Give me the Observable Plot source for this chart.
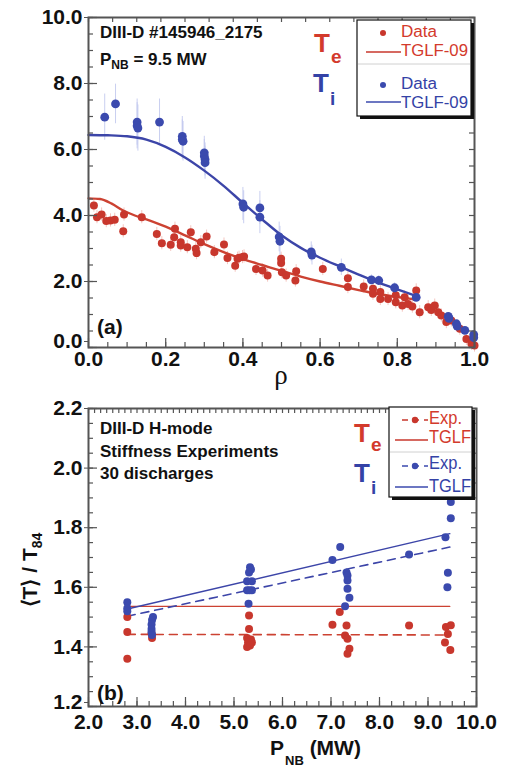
<!DOCTYPE html>
<html><head><meta charset="utf-8">
<script src="https://cdn.jsdelivr.net/npm/d3@7"></script>
<script src="https://cdn.jsdelivr.net/npm/@observablehq/plot@0.6"></script>
<style>
body{margin:0;background:#fff;}
#fig{width:508px;}
#fig svg{display:block;}
</style></head><body><div id="fig"></div>
<script>
// ---------------- Panel (a): profiles vs rho ----------------
const tiRho = [0.042,0.070,0.126,0.126,0.128,0.184,0.243,0.243,0.245,0.300,0.300,0.302,0.302,0.400,0.402,0.444,0.444,0.494,0.496,0.577,0.579,0.655,0.733,0.752,0.793,0.849,0.932,0.934,0.953,0.955,0.975,0.998,0.998];
const tiVal = [6.98,7.38,6.83,6.72,6.65,6.83,6.40,6.30,6.25,5.90,5.80,5.70,5.60,4.35,4.25,4.23,3.95,3.35,3.22,2.90,2.80,2.43,2.05,2.03,1.81,1.52,0.94,0.88,0.72,0.65,0.52,0.39,0.30];
const tiErr = [0.70,0.60,0.70,0.70,0.70,0.70,0.60,0.60,0.60,0.50,0.50,0.50,0.50,0.50,0.50,0.50,0.50,0.45,0.45,0.30,0.30,0.25,0.15,0.15,0.15,0.12,0.10,0.10,0.10,0.10,0.10,0.10,0.10];
const teRho = [0.014,0.022,0.034,0.046,0.057,0.068,0.092,0.090,0.138,0.177,0.190,0.213,0.222,0.224,0.239,0.239,0.256,0.265,0.278,0.280,0.291,0.306,0.326,0.351,0.360,0.380,0.386,0.390,0.399,0.403,0.434,0.451,0.464,0.499,0.499,0.501,0.512,0.538,0.536,0.607,0.672,0.672,0.713,0.737,0.737,0.756,0.756,0.776,0.796,0.796,0.813,0.819,0.828,0.839,0.849,0.858,0.880,0.888,0.897,0.906,0.914,0.927,0.940,0.962,0.979,0.992,1.000];
const teVal = [4.30,3.95,4.03,3.83,3.85,3.87,4.03,3.52,3.95,3.44,3.16,3.11,3.34,3.60,3.19,3.09,3.04,3.49,2.99,2.86,3.19,3.36,2.89,3.12,2.71,2.48,2.69,2.72,2.74,2.76,2.38,2.33,2.18,2.69,2.56,2.28,2.18,2.31,2.03,2.38,2.10,1.83,1.85,1.78,1.63,1.68,1.47,1.47,1.58,1.37,1.27,1.52,1.32,1.24,1.73,1.07,1.22,1.14,1.27,1.07,0.97,0.77,0.82,0.57,0.26,0.11,0.06];
const teErr = 0.2;
const tiFitRho = [0,0.05,0.10,0.15,0.20,0.25,0.30,0.35,0.40,0.45,0.50,0.55,0.60,0.65,0.70,0.75,0.80,0.85];
const tiTglf   = [6.44,6.43,6.40,6.30,6.08,5.76,5.36,4.90,4.38,3.88,3.40,3.02,2.72,2.46,2.21,1.97,1.76,1.56];
const teFitRho = [0,0.03,0.06,0.09,0.12,0.15,0.20,0.25,0.30,0.35,0.40,0.45,0.50,0.55,0.60,0.65,0.70,0.75,0.80,0.85];
const teTglf   = [4.52,4.50,4.36,4.15,4.00,3.88,3.66,3.40,3.13,2.89,2.68,2.50,2.32,2.15,2.00,1.87,1.74,1.62,1.53,1.45];
const xMajorA = [0,0.2,0.4,0.6,0.8,1.0];
const yMajorA = [0,2,4,6,8,10];

// ---------------- Panel (b): <T>/T84 vs P_NB ----------------
const tiP = [2.80,2.80,2.80,3.33,3.31,3.30,3.30,3.30,3.31,5.33,5.35,5.31,5.27,5.37,5.27,5.37,5.32,5.30,7.03,7.19,7.32,7.34,7.34,7.34,7.38,7.29,8.61,9.47,9.47,9.36,9.41,9.40];
const tiRatio = [1.55,1.53,1.52,1.50,1.49,1.475,1.46,1.45,1.44,1.667,1.66,1.65,1.62,1.62,1.59,1.59,1.59,1.545,1.692,1.735,1.65,1.64,1.623,1.595,1.565,1.536,1.71,1.886,1.832,1.768,1.649,1.60];
const teP = [2.80,2.80,2.80,3.31,3.30,5.31,5.31,5.27,5.35,5.29,5.37,5.27,5.33,7.18,7.03,7.32,7.29,7.34,7.38,7.34,8.61,9.37,9.47,9.41,9.35,9.46];
const teRatio = [1.50,1.45,1.36,1.43,1.445,1.505,1.46,1.43,1.425,1.415,1.415,1.40,1.405,1.517,1.474,1.472,1.438,1.427,1.394,1.377,1.472,1.467,1.473,1.443,1.415,1.39];
const fitP = [2.80, 9.45];
const tiTglfFit = [1.527, 1.780];
const tiExpFit  = [1.503, 1.735];
const teTglfFit = [1.536, 1.536];
const teExpFit  = [1.442, 1.440];
const xMajorB = [2,3,4,5,6,7,8,9,10];
const yMajorB = [1.2,1.4,1.6,1.8,2.0,2.2];

// ---------------- styling ----------------
const W = 508;
const FF = "'Liberation Sans', Arial, Helvetica, sans-serif";
const RED = "#c8372d", BLUE = "#3b4aae";
const REDT = "#d33a2c", BLUET = "#3442a6";
const GRAY = "#555";
const fmt = d3.format(".1f");

function frameTicks(xMinor, xMajor, xTop, yMinor, yMajor, iw, ih) {
  const s = {stroke: GRAY, strokeWidth: 1.2};
  return [
    Plot.tickX(xMinor, {x: d => d, insetTop: ih - 5, ...s}),
    Plot.tickX(xMajor, {x: d => d, insetTop: ih - 9, ...s}),
    Plot.tickX(xTop, {x: d => d, insetBottom: ih - 5, ...s}),
    Plot.tickY(yMinor, {y: d => d, insetRight: iw - 5, ...s}),
    Plot.tickY(yMajor, {y: d => d, insetRight: iw - 9, ...s}),
    Plot.tickY(yMinor, {y: d => d, insetLeft: iw - 5, ...s})
  ];
}
function txt(g, x, y, s, o = {}) {
  const t = g.append("text").attr("x", x).attr("y", y).text(s)
    .attr("font-family", o.family || FF).attr("font-size", o.size || 17)
    .attr("font-weight", o.weight || "bold").attr("fill", o.fill || "#111")
    .attr("text-anchor", o.anchor || "start");
  if (o.len) t.attr("textLength", o.len).attr("lengthAdjust", "spacingAndGlyphs");
  return t;
}
function subTxt(g, x, y, main, sub, rest, o) {
  const t = g.append("text").attr("x", x).attr("y", y)
    .attr("font-family", FF).attr("font-size", o.size)
    .attr("font-weight", "bold").attr("fill", o.fill || "#111").attr("text-anchor", "start");
  t.append("tspan").text(main);
  t.append("tspan").text(sub).attr("font-size", o.subSize).attr("dx", o.subDx || 0).attr("dy", o.subDy);
  if (rest) t.append("tspan").text(rest).attr("dy", -o.subDy).attr("dx", o.restDx || 0);
  return t;
}
function legendBox(g, x, y, w, h, divY) {
  g.append("rect").attr("x", x + 3).attr("y", y + 3).attr("width", w).attr("height", h).attr("fill", "#111");
  g.append("rect").attr("x", x).attr("y", y).attr("width", w).attr("height", h).attr("fill", "#fff").attr("stroke", "#111").attr("stroke-width", 1.2);
  g.append("line").attr("x1", x + 1).attr("x2", x + w - 1).attr("y1", divY).attr("y2", divY).attr("stroke", "#d0d0d0");
}

// ---------------- build panel (a) ----------------
const tiRows = tiRho.map((r, i) => ({rho: r, T: tiVal[i], e: tiErr[i]}));
const teRows = teRho.map((r, i) => ({rho: r, T: teVal[i]}));
const tiFit = tiFitRho.map((r, i) => ({rho: r, T: tiTglf[i]}));
const teFit = teFitRho.map((r, i) => ({rho: r, T: teTglf[i]}));

const A = {h: 390, mt: 17, mb: 43, ml: 88, mr: 34};
const ihA = A.h - A.mt - A.mb, iwA = W - A.ml - A.mr;
const axA = {fontSize: 21, fontWeight: "bold", fill: "#111", stroke: GRAY, label: null, tickFormat: fmt};

const svgA = Plot.plot({
  width: W, height: A.h, marginTop: A.mt, marginBottom: A.mb, marginLeft: A.ml, marginRight: A.mr,
  x: {domain: [0, 1]}, y: {domain: [0, 10]},
  style: {fontFamily: FF, background: "#fff", color: "#111", overflow: "visible"},
  marks: [
    Plot.ruleX(teRows, {x: "rho", y1: d => d.T - teErr, y2: d => d.T + teErr, stroke: "#f4c6c0", strokeWidth: 1}),
    Plot.ruleX(tiRows, {x: "rho", y1: d => d.T - d.e, y2: d => d.T + d.e, stroke: "#c3c9ee", strokeWidth: 0.9}),
    Plot.line(teFit, {x: "rho", y: "T", stroke: "#cc4232", strokeWidth: 2.4, curve: "monotone-x"}),
    Plot.line(tiFit, {x: "rho", y: "T", stroke: "#3c45a8", strokeWidth: 2.4, curve: "monotone-x"}),
    Plot.dot(teRows, {x: "rho", y: "T", r: 4, fill: RED}),
    Plot.dot(tiRows, {x: "rho", y: "T", r: 4.4, fill: BLUE}),
    Plot.frame({stroke: GRAY, strokeWidth: 2}),
    ...frameTicks(d3.range(0, 1.0001, 0.05), xMajorA, d3.range(0, 1.0001, 0.0625), d3.range(0, 10.001, 0.5), yMajorA, iwA, ihA),
    Plot.axisX({...axA, ticks: xMajorA, tickSize: 0, tickPadding: 4}),
    Plot.axisY({...axA, ticks: yMajorA.slice(1), tickSize: 4, tickPadding: 2}),
    Plot.axisY({...axA, ticks: [0], tickSize: 4, tickPadding: 2, dy: -6})
  ]
});
{
  const g = d3.select(svgA).append("g");
  txt(g, 100, 38, "DIII-D #145946_2175", {size: 17});
  subTxt(g, 100, 65, "P", "NB", " = 9.5 MW", {size: 17, subSize: 12, subDy: 4});
  subTxt(g, 314, 52, "T", "e", null, {size: 26, subSize: 19, subDy: 11, subDx: 1, fill: REDT});
  subTxt(g, 313, 92, "T", "i", null, {size: 26, subSize: 19, subDy: 13, subDx: 1, fill: BLUET});
  txt(g, 97, 334, "(a)", {size: 21});
  txt(g, 281, 384, "ρ", {size: 27, weight: "normal", family: "'Liberation Serif', 'Times New Roman', serif", anchor: "middle"});
  legendBox(g, 357, 20, 114, 96, 64);
  g.append("circle").attr("cx", 383).attr("cy", 33).attr("r", 3).attr("fill", RED);
  txt(g, 401, 37, "Data", {size: 16, weight: "normal", fill: REDT, len: 36});
  g.append("line").attr("x1", 366).attr("x2", 401).attr("y1", 52).attr("y2", 52).attr("stroke", RED).attr("stroke-width", 1.5);
  txt(g, 401, 56, "TGLF-09", {size: 16, weight: "normal", fill: REDT, len: 67});
  g.append("circle").attr("cx", 383).attr("cy", 85).attr("r", 3).attr("fill", BLUE);
  txt(g, 401, 89, "Data", {size: 16, weight: "normal", fill: BLUET, len: 36});
  g.append("line").attr("x1", 366).attr("x2", 401).attr("y1", 102).attr("y2", 102).attr("stroke", BLUE).attr("stroke-width", 1.5);
  txt(g, 401, 108, "TGLF-09", {size: 16, weight: "normal", fill: BLUET, len: 67});
}

// ---------------- build panel (b) ----------------
const tiB = tiP.map((p, i) => ({P: p, v: tiRatio[i]}));
const teB = teP.map((p, i) => ({P: p, v: teRatio[i]}));
const line = (ys) => fitP.map((p, i) => ({P: p, v: ys[i]}));

const B = {h: 379, mt: 18, mb: 63, ml: 88, mr: 32};
const ihB = B.h - B.mt - B.mb, iwB = W - B.ml - B.mr;

const svgB = Plot.plot({
  width: W, height: B.h, marginTop: B.mt, marginBottom: B.mb, marginLeft: B.ml, marginRight: B.mr,
  x: {domain: [2, 10]}, y: {domain: [1.2, 2.2]},
  style: {fontFamily: FF, background: "#fff", color: "#111", overflow: "visible"},
  marks: [
    Plot.line(line(teExpFit), {x: "P", y: "v", stroke: "#cc4232", strokeWidth: 1.6, strokeDasharray: "8,6"}),
    Plot.line(line(teTglfFit), {x: "P", y: "v", stroke: "#cc4232", strokeWidth: 1.4}),
    Plot.line(line(tiExpFit), {x: "P", y: "v", stroke: "#3c45a8", strokeWidth: 1.6, strokeDasharray: "8,6"}),
    Plot.line(line(tiTglfFit), {x: "P", y: "v", stroke: "#3c45a8", strokeWidth: 1.4}),
    Plot.dot(teB, {x: "P", y: "v", r: 4, fill: RED}),
    Plot.dot(tiB, {x: "P", y: "v", r: 4, fill: BLUE}),
    Plot.frame({stroke: GRAY, strokeWidth: 2}),
    ...frameTicks(d3.range(2, 10.001, 0.25), xMajorB, d3.range(2, 10.001, 0.125), d3.range(1.2, 2.2001, 0.05), yMajorB, iwB, ihB),
    Plot.axisX({...axA, ticks: xMajorB, tickSize: 0, tickPadding: 8}),
    Plot.axisY({...axA, ticks: yMajorB.slice(1), tickSize: 4, tickPadding: 2}),
    Plot.axisY({...axA, ticks: [1.2], tickSize: 4, tickPadding: 2, dy: -4})
  ]
});
{
  const g = d3.select(svgB).append("g");
  const o = 390;
  txt(g, 100, 434 - o, "DIII-D H-mode", {size: 17});
  txt(g, 100, 457 - o, "Stiffness Experiments", {size: 17});
  txt(g, 100, 479 - o, "30 discharges", {size: 17});
  subTxt(g, 354, 442 - o, "T", "e", null, {size: 26, subSize: 19, subDy: 9, subDx: 1, fill: REDT});
  subTxt(g, 354, 482 - o, "T", "i", null, {size: 26, subSize: 19, subDy: 12, subDx: 1, fill: BLUET});
  txt(g, 97, 700 - o, "(b)", {size: 21});
  subTxt(g, 270, 755 - o, "P", "NB", " (MW)", {size: 21, subSize: 13, subDy: 10, subDx: 1});
  const yl = g.append("text").attr("transform", `translate(37,${570 - o}) rotate(-90)`)
    .attr("text-anchor", "middle").attr("font-family", FF).attr("font-weight", "bold").attr("font-size", 21).attr("fill", "#111");
  yl.append("tspan").text("\u27E8T\u27E9 / T");
  yl.append("tspan").text("84").attr("font-size", 14).attr("dy", 5);
  legendBox(g, 389, 407 - o, 83, 90, 452 - o);
  const ent = (yy, col, tcol, dashed, label, ty) => {
    if (dashed) {
      g.append("line").attr("x1", 402).attr("x2", 428).attr("y1", yy - o).attr("y2", yy - o).attr("stroke", col).attr("stroke-width", 1.5).attr("stroke-dasharray", "6,5");
      g.append("circle").attr("cx", 415).attr("cy", yy - o).attr("r", 3.2).attr("fill", col);
    } else {
      g.append("line").attr("x1", 395).attr("x2", 428).attr("y1", yy - o).attr("y2", yy - o).attr("stroke", col).attr("stroke-width", 1.5);
    }
    txt(g, 429, ty - o, label, {size: 18, weight: "normal", fill: tcol, len: label === "TGLF" ? 42 : 33});
  };
  ent(420, RED, REDT, true, "Exp.", 424);
  ent(440, RED, REDT, false, "TGLF", 443);
  ent(466, BLUE, BLUET, true, "Exp.", 469);
  ent(487, BLUE, BLUET, false, "TGLF", 492);
}

const fig = document.getElementById("fig");
fig.appendChild(svgA);
fig.appendChild(svgB);
</script>
</body></html>
